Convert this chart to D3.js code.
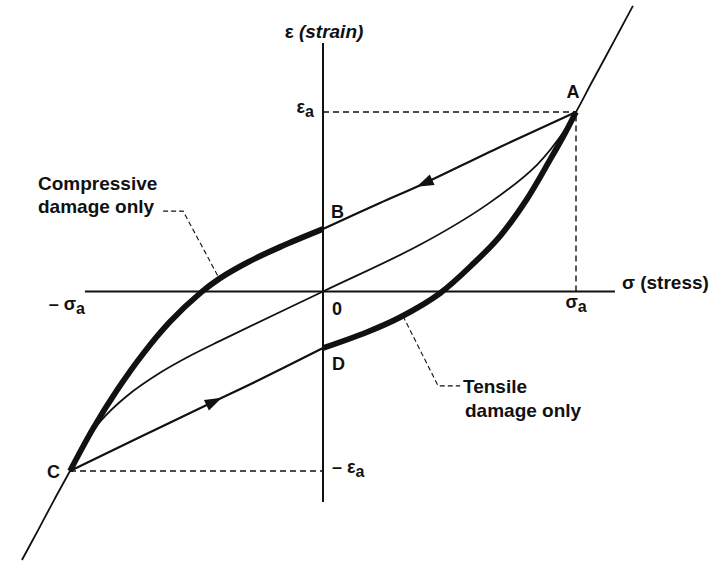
<!DOCTYPE html>
<html>
<head>
<meta charset="utf-8">
<script src="https://cdn.jsdelivr.net/npm/d3@7"></script>
<style>
  body { margin: 0; background: #fff; }
  text { font-family: "Liberation Sans", Arial, Helvetica, sans-serif; font-weight: bold; fill: #111; }
</style>
</head>
<body>
<svg id="chart" width="712" height="577"></svg>
<script>
// Stress (sigma) and strain (eps) in units of the amplitudes sigma_a and eps_a.

// Virgin stress-strain curve, extended past C and A
const virginSigma = [-1.190, -1.126, -1.063, -1, -0.941, -0.881, -0.775, -0.644, -0.514, -0.407, 0, 0.383, 0.648, 0.846, 0.964, 1, 1.063, 1.123, 1.174, 1.225];
const virginEps   = [-1.496, -1.329, -1.162, -1, -0.847, -0.725, -0.582, -0.453, -0.350, -0.275, 0, 0.260, 0.484, 0.706, 0.915, 1, 1.167, 1.323, 1.457, 1.591];

// Unloading branch A -> B (no damage) then B -> C (compressive damage only)
const upperSigma = [1, 0.700, 0.395, 0.225, 0];
const upperEps   = [1, 0.805, 0.599, 0.493, 0.348];
const compSigma  = [0, -0.170, -0.300, -0.407, -0.482, -0.605, -0.711, -0.814, -0.909, -1];
const compEps    = [0.348, 0.248, 0.161, 0.074, -0.005, -0.169, -0.347, -0.550, -0.764, -1];

// Reloading branch C -> D (no damage) then D -> A (tensile damage only)
const lowerSigma   = [-1, -0.723, -0.435, -0.261, 0];
const lowerEps     = [-1, -0.811, -0.616, -0.499, -0.315];
const tensileSigma = [0, 0.174, 0.304, 0.462, 0.597, 0.700, 0.806, 0.897, 0.957, 1];
const tensileEps   = [-0.315, -0.226, -0.144, -0.010, 0.159, 0.309, 0.515, 0.733, 0.883, 1];

// Direction arrows: stress at the arrow tip on each branch
const arrowTipSigma = [0.37, -0.40];

// Axis extents
const sigmaAxisRange = [-0.941, 1.154];
const epsAxisRange   = [-1.173, 1.384];

// Leader lines for the annotations (sigma, eps)
const compLeaderSigma = [-0.632, -0.553, -0.415];
const compLeaderEps   = [0.448, 0.448, 0.085];
const tensLeaderSigma = [0.316, 0.455, 0.542];
const tensLeaderEps   = [-0.136, -0.526, -0.526];

const svg = d3.select("#chart");
const x = d3.scaleLinear().domain([-1, 1]).range([70, 576]);
const y = d3.scaleLinear().domain([-1, 1]).range([471, 112]);

const zip = (a, b) => a.map((v, i) => [v, b[i]]);
const line = d3.line().x(d => x(d[0])).y(d => y(d[1])).curve(d3.curveCatmullRom.alpha(0.5));
const straight = d3.line().x(d => x(d[0])).y(d => y(d[1]));

// Axes
svg.append("line")
  .attr("x1", x(sigmaAxisRange[0])).attr("x2", x(sigmaAxisRange[1]))
  .attr("y1", y(0)).attr("y2", y(0))
  .attr("stroke", "#111").attr("stroke-width", 2);
svg.append("line")
  .attr("x1", x(0)).attr("x2", x(0))
  .attr("y1", y(epsAxisRange[1])).attr("y2", y(epsAxisRange[0]))
  .attr("stroke", "#111").attr("stroke-width", 2);

// Amplitude guides
const guides = [
  [[0, 1], [1, 1]],
  [[1, 0], [1, 1]],
  [[-1, -1], [0, -1]]
];
svg.selectAll("path.guide").data(guides).join("path")
  .attr("class", "guide")
  .attr("d", straight)
  .attr("fill", "none").attr("stroke", "#111")
  .attr("stroke-width", 1.4).attr("stroke-dasharray", "6,4");

// Virgin curve
svg.append("path")
  .attr("d", line(zip(virginSigma, virginEps)))
  .attr("fill", "none").attr("stroke", "#111").attr("stroke-width", 1.8);

// Hysteresis branches
const upperPath = svg.append("path")
  .attr("d", line(zip(upperSigma, upperEps)))
  .attr("fill", "none").attr("stroke", "#111").attr("stroke-width", 2.2);
const lowerPath = svg.append("path")
  .attr("d", line(zip(lowerSigma, lowerEps)))
  .attr("fill", "none").attr("stroke", "#111").attr("stroke-width", 2.2);

svg.append("path")
  .attr("d", line(zip(compSigma, compEps)))
  .attr("fill", "none").attr("stroke", "#111").attr("stroke-width", 5.8);
svg.append("path")
  .attr("d", line(zip(tensileSigma, tensileEps)))
  .attr("fill", "none").attr("stroke", "#111").attr("stroke-width", 5.8);

// Arrowheads following the path direction
function arrowAt(pathSel, tipSigma) {
  const node = pathSel.node();
  const total = node.getTotalLength();
  const tx = x(tipSigma);
  let best = 0, bestD = Infinity;
  for (let l = 0; l <= total; l += 0.5) {
    const p = node.getPointAtLength(l);
    const d = Math.abs(p.x - tx);
    if (d < bestD) { bestD = d; best = l; }
  }
  const p = node.getPointAtLength(best);
  const q = node.getPointAtLength(Math.max(0, best - 2));
  let dx = p.x - q.x, dy = p.y - q.y;
  const n = Math.hypot(dx, dy); dx /= n; dy /= n;
  const len = 17, hw = 5.8;
  const bx = p.x - dx * len, by = p.y - dy * len;
  svg.append("path")
    .attr("d", `M${p.x},${p.y}L${bx - dy * hw},${by + dx * hw}L${bx + dy * hw},${by - dx * hw}Z`)
    .attr("fill", "#111");
}
arrowAt(upperPath, arrowTipSigma[0]);
arrowAt(lowerPath, arrowTipSigma[1]);

// Leader lines
[zip(compLeaderSigma, compLeaderEps), zip(tensLeaderSigma, tensLeaderEps)].forEach(pts => {
  svg.append("path").attr("d", straight(pts))
    .attr("fill", "none").attr("stroke", "#111")
    .attr("stroke-width", 1.1).attr("stroke-dasharray", "5,3");
});

// Labels
const fs = 19;
function label(tx, ty, str, anchor, size) {
  return svg.append("text").attr("x", tx).attr("y", ty)
    .attr("text-anchor", anchor || "start")
    .style("font-size", (size || fs) + "px").text(str);
}
function subLabel(tx, ty, main, sub, anchor) {
  const t = svg.append("text").attr("x", tx).attr("y", ty)
    .attr("text-anchor", anchor || "start").style("font-size", "18px");
  t.append("tspan").text(main);
  t.append("tspan").attr("dy", 4).style("font-size", "16px").text(sub);
  return t;
}

// axis titles
const epsTitle = svg.append("text").attr("x", x(0) + 1).attr("y", 38)
  .attr("text-anchor", "middle").style("font-size", fs + "px");
epsTitle.append("tspan").text("ε ");
epsTitle.append("tspan").style("font-style", "italic").text("(strain)");
label(x(sigmaAxisRange[1]) + 7, y(0) - 3, "σ (stress)");

// amplitude labels
subLabel(x(0) - 9, y(1) + 1, "ε", "a", "end");
subLabel(x(0) + 9, y(-1) + 2, "– ε", "a");
subLabel(x(1), y(0) + 16, "σ", "a", "middle");
subLabel(x(sigmaAxisRange[0]), y(0) + 18, "– σ", "a", "end");

// points
label(x(1) - 3, y(1) - 14, "A", "middle", 18);
label(x(0) + 8, y(compEps[0]) - 11, "B", "start", 18);
label(x(-1) - 10, y(-1) + 7, "C", "end", 18);
label(x(0) + 9, y(lowerEps[lowerEps.length - 1]) + 22, "D", "start", 18);
label(x(0) + 9, y(0) + 23, "0", "start", 18);

// annotations
label(38, 190, "Compressive");
label(38, 213, "damage only");
label(463, 393, "Tensile");
label(465, 417, "damage only");
</script>
</body>
</html>
